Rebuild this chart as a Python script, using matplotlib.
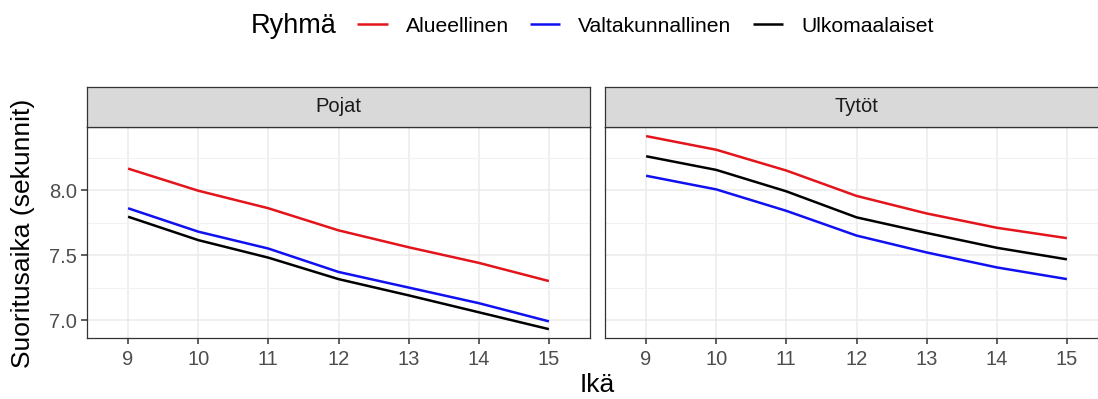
import matplotlib
matplotlib.use("Agg")
import matplotlib.pyplot as plt

plt.rcParams['font.family'] = ['Liberation Sans', 'DejaVu Sans']

# data
ages = [9, 10, 11, 12, 13, 14, 15]
panels = ["Pojat", "Tytöt"]
groups = ["Alueellinen", "Valtakunnallinen", "Ulkomaalaiset"]
colors = ["#E3141B", "#1010F0", "#000000"]

pojat_alueellinen = [8.165, 7.995, 7.86, 7.69, 7.56, 7.44, 7.30]
pojat_valtakunnallinen = [7.86, 7.68, 7.55, 7.37, 7.25, 7.13, 6.99]
pojat_ulkomaalaiset = [7.795, 7.615, 7.48, 7.315, 7.19, 7.06, 6.93]

tytot_alueellinen = [8.415, 8.31, 8.15, 7.955, 7.82, 7.71, 7.63]
tytot_valtakunnallinen = [8.11, 8.005, 7.84, 7.65, 7.52, 7.405, 7.315]
tytot_ulkomaalaiset = [8.26, 8.155, 7.99, 7.79, 7.67, 7.556, 7.467]

panel_data = [
    [pojat_alueellinen, pojat_valtakunnallinen, pojat_ulkomaalaiset],
    [tytot_alueellinen, tytot_valtakunnallinen, tytot_ulkomaalaiset],
]

W, H = 1098, 399
fig = plt.figure(figsize=(W / 100, H / 100), dpi=100)

def fx(px):
    return px / W

def fy(py):
    return 1 - py / H

panel_left = [87, 605]
panel_w = 503
panel_top, panel_bottom = 127, 338
strip_top = 87

handles = []
for i, name in enumerate(panels):
    ax = fig.add_axes([fx(panel_left[i]), fy(panel_bottom), fx(panel_w),
                       (panel_bottom - panel_top) / H])
    ax.set_xlim(8.414, 15.586)
    ax.set_ylim(6.862, 8.485)
    ax.set_xticks(ages)
    ax.set_yticks([7.0, 7.5, 8.0])
    ax.set_yticks([7.25, 7.75, 8.25], minor=True)
    ax.grid(True, which='major', color='#EBEBEB', lw=1.1)
    ax.grid(True, which='minor', axis='y', color='#F2F2F2', lw=0.8)
    ax.set_axisbelow(True)
    for s in ax.spines.values():
        s.set_color('#333333')
        s.set_linewidth(0.9)
    ax.tick_params(axis='both', which='major', colors='#333333', labelcolor='#4D4D4D',
                   labelsize=14.5, length=4.5, width=1.1)
    ax.tick_params(axis='x', pad=4)
    ax.tick_params(axis='y', pad=2.5)
    ax.tick_params(which='minor', length=0)
    ax.set_yticklabels(["7.0", "7.5", "8.0"])
    if i == 1:
        ax.tick_params(axis='y', left=False, labelleft=False)

    for vals, col, g in zip(panel_data[i], colors, groups):
        ln, = ax.plot(ages, vals, color=col, lw=1.8, label=g, solid_capstyle='butt')
        if i == 0:
            handles.append(ln)

    # facet strip
    sax = fig.add_axes([fx(panel_left[i]), fy(panel_top), fx(panel_w),
                        (panel_top - strip_top) / H])
    sax.set_facecolor('#D9D9D9')
    sax.set_xticks([])
    sax.set_yticks([])
    for s in sax.spines.values():
        s.set_color('#333333')
        s.set_linewidth(0.9)
    sax.text(0.5, 0.5, name, ha='center', va='center', fontsize=14.5, color='#1A1A1A',
             transform=sax.transAxes)

# axis titles
fig.text(fx(23), fy(233), "Suoritusaika (sekunnit)", rotation=90, ha='center',
         va='center', fontsize=19)
fig.text(fx(597), fy(373), "Ikä", ha='center', va='top', fontsize=19)

# legend
fig.text(fx(251), fy(26), "Ryhmä", ha='left', va='center', fontsize=19.5)
fig.legend(handles, groups, ncol=3, loc='center left',
           bbox_to_anchor=(fx(357), fy(26)), frameon=False, fontsize=15.2,
           handlelength=1.45, handletextpad=0.85, columnspacing=1.0,
           borderpad=0, borderaxespad=0)

fig.savefig("out.png", dpi=100)
